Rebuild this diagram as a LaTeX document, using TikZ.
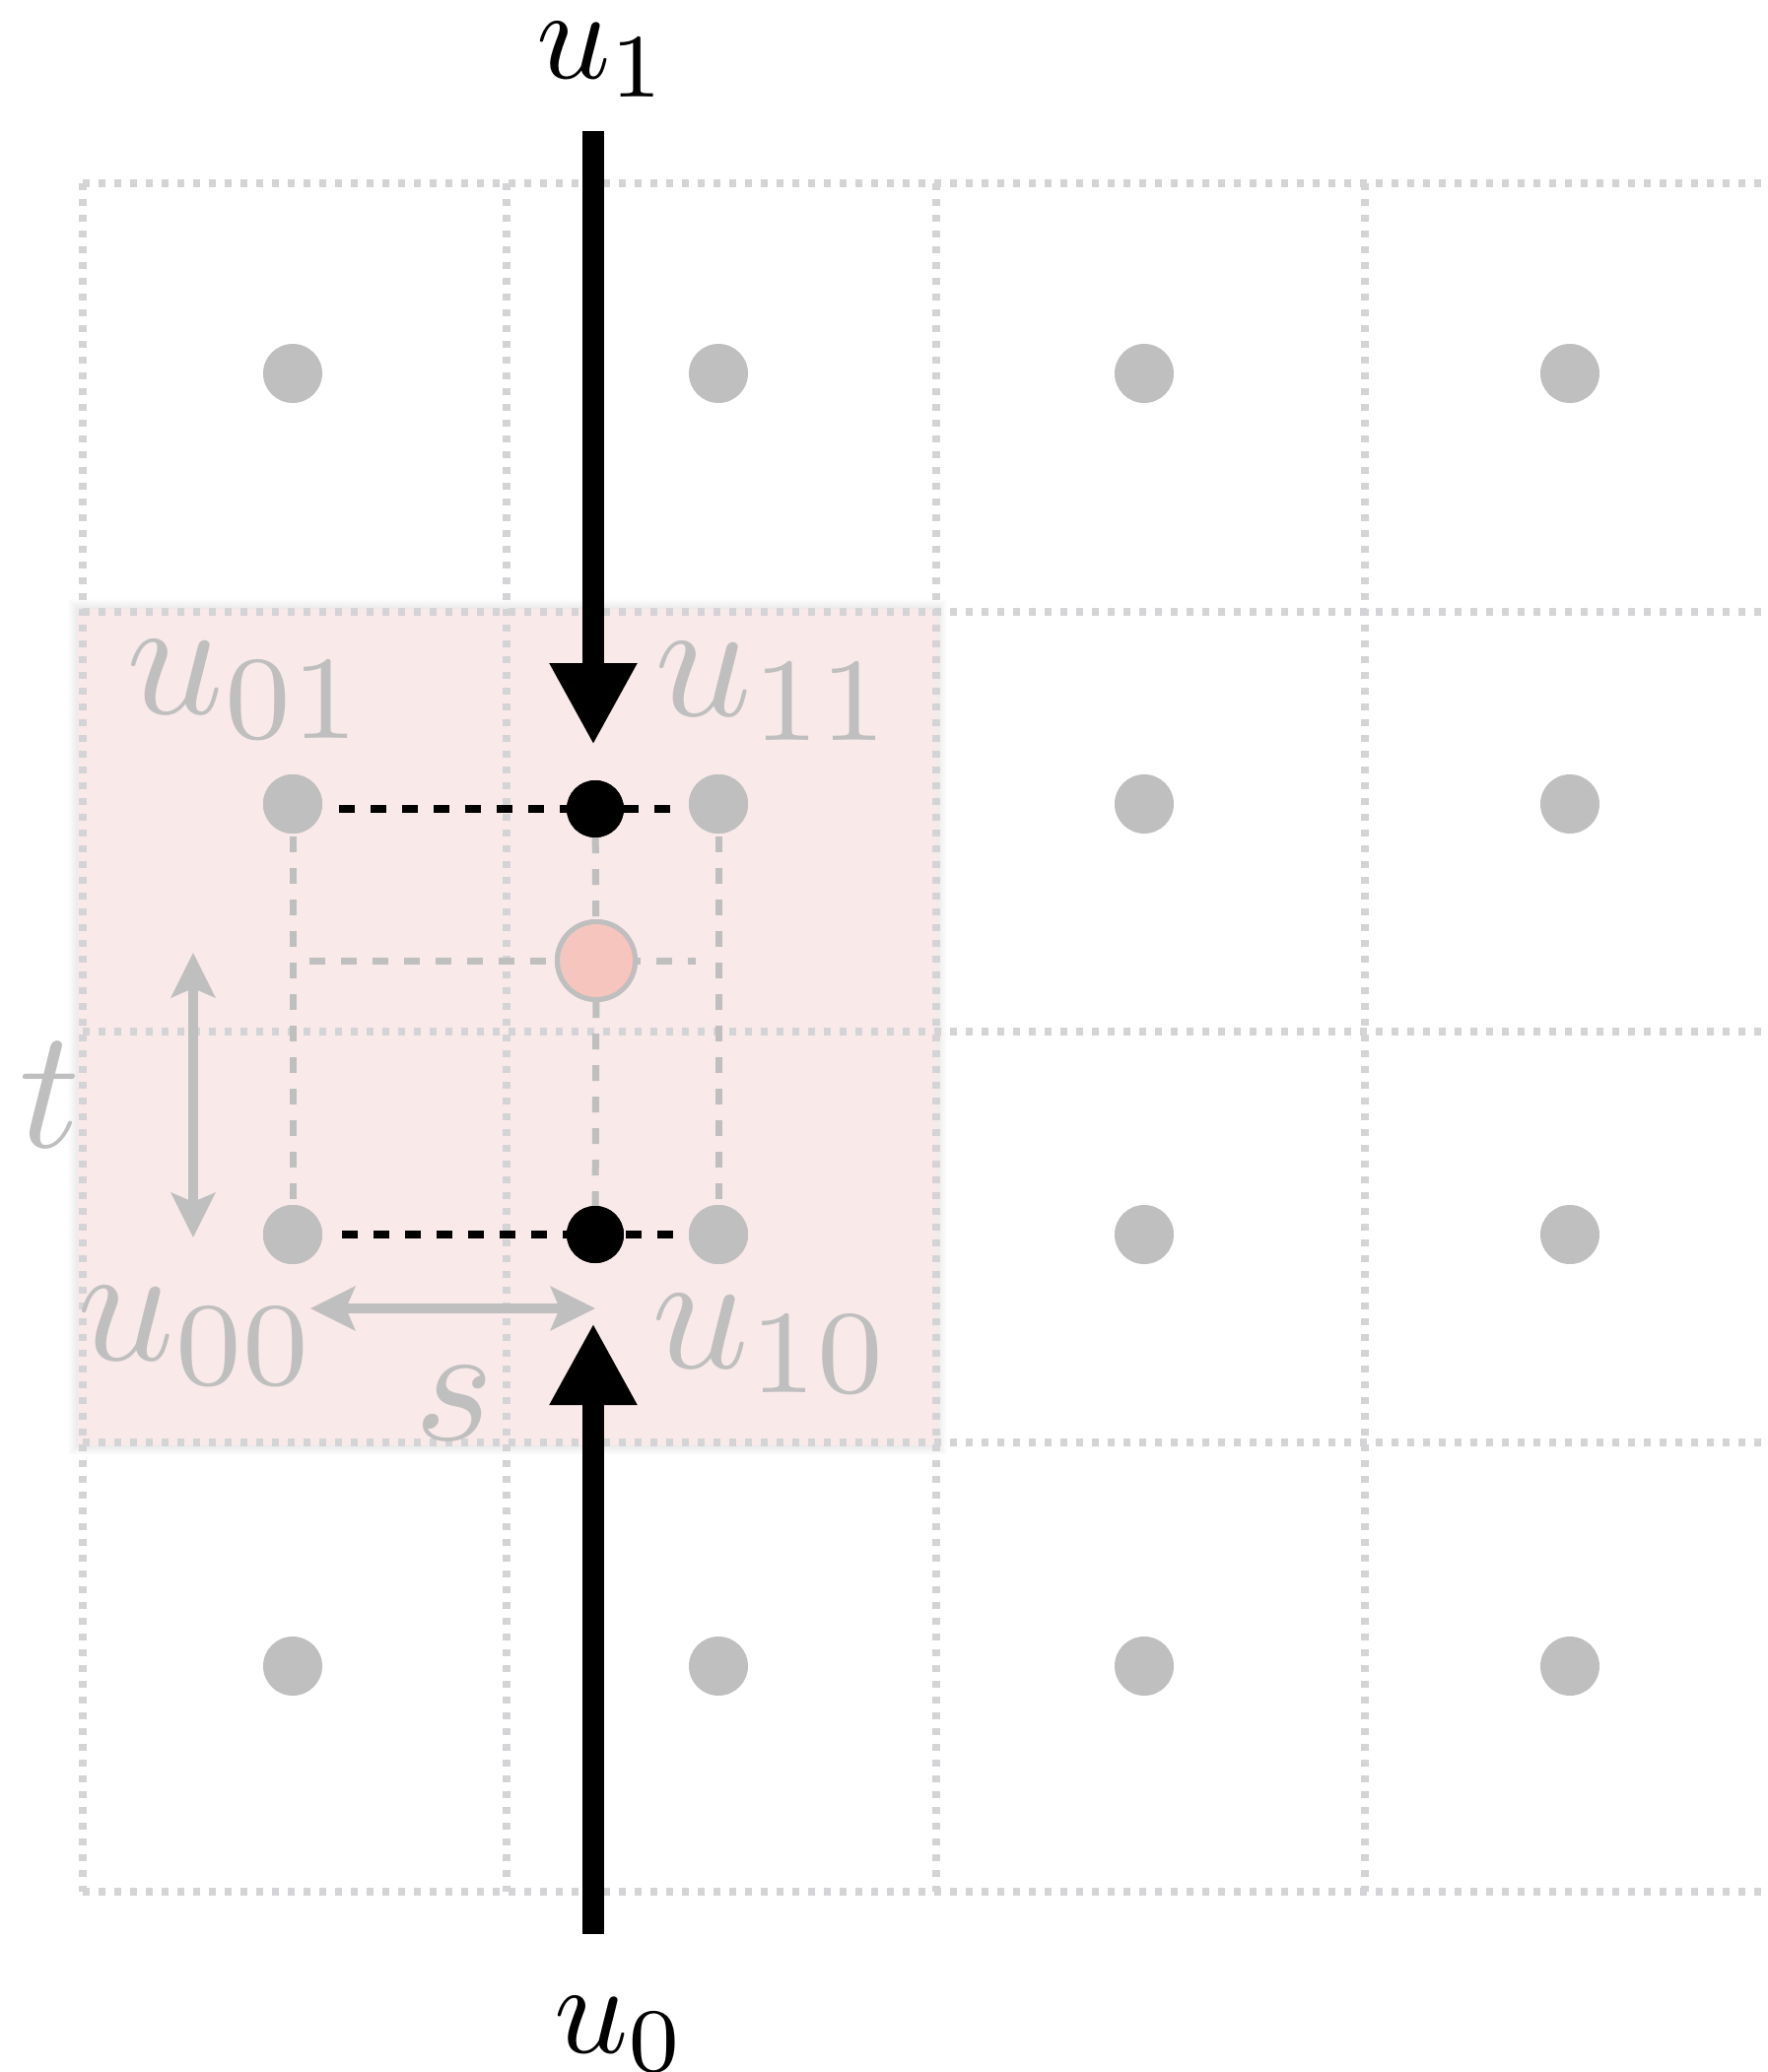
\documentclass[tikz,border=0pt]{standalone}
\usetikzlibrary{arrows.meta}
\definecolor{gridgray}{RGB}{212,212,214}
\definecolor{dotgray}{RGB}{191,191,191}
\definecolor{pinkbg}{RGB}{249,233,233}
\definecolor{pinkdot}{RGB}{246,198,190}
\begin{document}
\begin{tikzpicture}[x=1bp,y=-1bp,
  gridline/.style={draw=gridgray,line width=8bp,dash pattern=on 7bp off 9bp},
  gdot/.style={circle,fill=dotgray,minimum size=60bp,inner sep=0pt},
  bdot/.style={circle,fill=black,minimum size=58bp,inner sep=0pt},
  pdot/.style={circle,fill=pinkdot,draw=dotgray,line width=5bp,minimum size=79bp,inner sep=0pt},
  bdash/.style={draw=black,line width=8bp,dash pattern=on 16bp off 16bp},
  gdash/.style={draw=dotgray,line width=7bp,dash pattern=on 16bp off 16bp},
  bigarrow/.style={draw=black,line width=22bp,-{Triangle[length=83bp,width=83bp]}},
  garrow/.style={draw=dotgray,line width=10bp,{Stealth[length=45bp,width=44bp,inset=9bp]}-{Stealth[length=45bp,width=44bp,inset=9bp]}},
  glabel/.style={text=dotgray,scale=17.3,anchor=base west,inner sep=0pt},
  blabel/.style={text=black,scale=13.2,anchor=base west,inner sep=0pt}]
\useasboundingbox (0,0) rectangle (1794,2103);
\fill[white] (0,0) rectangle (1794,2103);
% soft shadow of the pink region
\foreach \i in {1,...,10}
  \fill[black,opacity=0.009] (79-\i,618-\i) rectangle (951+\i,1467+\i);
\fill[pinkbg] (79,618) rectangle (951,1467);
% grid
\foreach \x in {84,514,950,1385}
  \draw[gridline] (\x,186) -- (\x,1920);
\foreach \y in {186,621,1047,1464,1920}
  \draw[gridline] (84,\y) -- (1794,\y);
% dots
\foreach \c/\x in {0/297,1/729,2/1161,3/1593}
  \foreach \r/\y in {0/379,1/816,2/1253,3/1691}
    \node[gdot] (g\c\r) at (\x,\y) {};
% gray dashed guides
\draw[gdash,shorten <=3bp,shorten >=3bp] (g01) -- (g02);
\draw[gdash,shorten <=3bp,shorten >=3bp] (g11) -- (g12);
\node[bdot] (b1) at (604,821) {};
\node[bdot] (b0) at (604,1253) {};
\node[pdot] (pc) at (605,975) {};
\draw[gdash] (b1) -- (pc);
\draw[gdash] (pc) -- (b0);
\draw[gdash,shorten <=17bp,shorten >=23bp] (g02.center |- pc.center) -- (g12.center |- pc.center);
% black dashed
\draw[bdash,shorten <=47bp,shorten >=48bp] (g01.center |- b1.center) -- (g11.center |- b1.center);
\draw[bdash,shorten <=50bp,shorten >=46bp] (g02.center |- b0.center) -- (g12.center |- b0.center);
% dots on top of the guides
\foreach \c/\x in {0/297,1/729}
  \foreach \r/\y in {1/816,2/1253}
    \node[gdot] at (\x,\y) {};
\node[bdot] at (604,821) {};
\node[bdot] at (604,1253) {};
\node[pdot] at (605,975) {};
% arrows
\coordinate (a1s) at (602,133);
\coordinate (a1e) at (602,756);
\draw[bigarrow] (a1s) -- (a1e);
\coordinate (a0s) at (602,1963);
\coordinate (a0e) at (602,1343);
\draw[bigarrow] (a0s) -- (a0e);
\coordinate (ts) at (196,967);
\coordinate (te) at (196,1256);
\draw[garrow] (ts) -- (te);
\coordinate (ss) at (315,1328);
\coordinate (se) at (604,1328);
\draw[garrow] (ss) -- (se);
% labels
\node[blabel] (lu1) at (542,79) {$u_1$};
\node[blabel] (lu0) at (560,2083) {$u_0$};
\node[glabel] (l01) at (125,724) {$u_{01}$};
\node[glabel] (l11) at (661,726) {$u_{11}$};
\node[glabel] (l00) at (75,1380) {$u_{00}$};
\node[glabel] (l10) at (658,1388) {$u_{10}$};
\node[glabel] (lt) at (16,1164) {$t$};
\node[glabel] (ls) at (417,1461) {$s$};
\end{tikzpicture}
\end{document}
